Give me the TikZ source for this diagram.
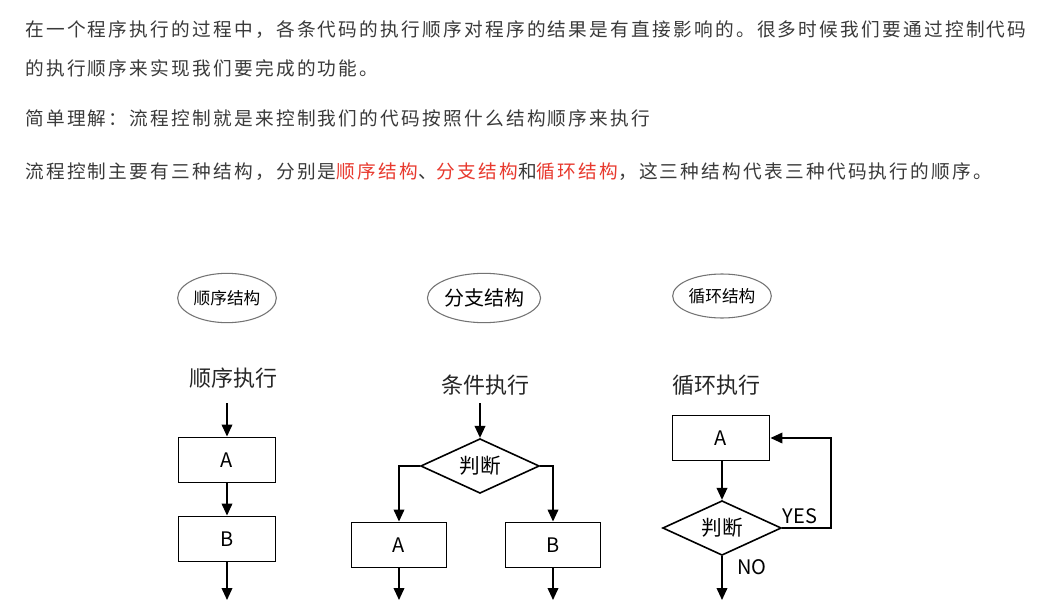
\documentclass[tikz,border=0pt]{standalone}
\usepackage{fontspec}
\setmainfont{Noto Sans CJK SC}
\newfontfamily\cjk{Noto Sans CJK SC}
\newfontfamily\paraf[LetterSpace=12]{Noto Sans CJK SC}
\usetikzlibrary{arrows.meta,shapes.geometric}
\definecolor{txt}{HTML}{3A3A3A}
\definecolor{hl}{HTML}{E8392E}
\begin{document}
\begin{tikzpicture}[x=0.75pt,y=-0.75pt,
  para/.style={anchor=west,inner sep=0pt,text=txt,font=\paraf\fontsize{14}{16}\selectfont},
  oval/.style={draw=black!55,ellipse,line width=0.8pt,inner sep=0pt},
  title/.style={inner sep=0pt,text=black!85,font=\cjk\fontsize{16.5}{18}\selectfont},
  box/.style={draw,line width=1.2pt,minimum width=73pt,minimum height=34pt,inner sep=0pt,font=\cjk\fontsize{15}{17}\selectfont},
  dia/.style={draw,diamond,aspect=2.16,line width=1.2pt,minimum width=89pt,minimum height=41pt,inner sep=0pt,font=\cjk\fontsize{15.5}{17}\selectfont},
  arr/.style={line width=1.2pt,-{Triangle[length=9pt,width=8pt]}},
  lbl/.style={inner sep=0pt,font=\cjk\fontsize{15}{17}\selectfont}
]
\path[use as bounding box,fill=white] (0,0) rectangle (1045,610);

% paragraph text
\node[para] (p1) at (25,30) {在一个程序执行的过程中，各条代码的执行顺序对程序的结果是有直接影响的。很多时候我们要通过控制代码};
\node[para] (p2) at (25,68) {的执行顺序来实现我们要完成的功能。};
\node[para] (p3) at (25,118) {简单理解：流程控制就是来控制我们的代码按照什么结构顺序来执行};
\node[para] (p4) at (25,172) {流程控制主要有三种结构，分别是\textcolor{hl}{顺序结构}、\textcolor{hl}{分支结构}和\textcolor{hl}{循环结构}，这三种结构代表三种代码执行的顺序。};

% ovals
\node[oval,minimum width=74pt,minimum height=37pt,font=\cjk\fontsize{12.5}{14}\selectfont] (o1) at (227,298) {顺序结构};
\node[oval,minimum width=74pt,minimum height=37pt,font=\cjk\fontsize{15}{17}\selectfont] (o2) at (484,298) {分支结构};
\node[oval,minimum width=74pt,minimum height=33pt,font=\cjk\fontsize{12.5}{14}\selectfont] (o3) at (722,296) {循环结构};

% titles
\node[title] (t1) at (233,378) {顺序执行};
\node[title] (t2) at (485,385) {条件执行};
\node[title] (t3) at (716,385) {循环执行};

% sequential
\coordinate (s0) at (227,403);
\node[box] (sa) at (227,460) {A};
\node[box] (sb) at (227,539) {B};
\coordinate (s1) at (227,600);
\draw[arr] (s0) -- (sa);
\draw[arr] (sa) -- (sb);
\draw[arr] (sb) -- (s1);

% branch
\coordinate (b0) at (480,403);
\node[dia] (bd) at (480,466) {判断};
\node[box,minimum width=71pt] (ba) at (399,545) {A};
\node[box,minimum width=71pt] (bb) at (553,545) {B};
\coordinate (b1) at (399,600);
\coordinate (b2) at (553,600);
\draw[arr] (b0) -- (bd);
\draw[arr] (bd.west) -| (ba.north);
\draw[arr] (bd.east) -| (bb.north);
\draw[arr] (ba) -- (b1);
\draw[arr] (bb) -- (b2);

% loop
\node[box] (la) at (721,438) {A};
\node[dia] (ld) at (722,528) {判断};
\coordinate (lc) at (831,528);
\coordinate (l1) at (722,600);
\draw[arr] (la.south -| ld.north) -- (ld.north);
\draw[arr] (ld.east) -- (lc) |- (la.east);
\draw[arr] (ld.south) -- (l1);
\node[lbl] (yes) at (800,516) {YES};
\node[lbl] (no) at (752,567) {NO};
\end{tikzpicture}
\end{document}
